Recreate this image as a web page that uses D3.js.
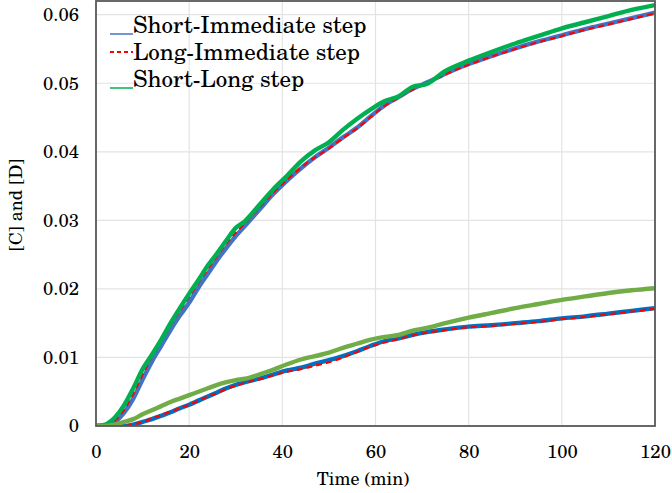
<!DOCTYPE html>
<html>
<head>
<meta charset="utf-8">
<script src="https://cdn.jsdelivr.net/npm/d3@7"></script>
<style>
  html, body { margin: 0; padding: 0; background: #fff; }
  svg { display: block; }
  text { font-family: "TeX Gyre Schola", "Century Schoolbook L", "Liberation Serif", serif; fill: #000; }
</style>
</head>
<body>
<svg id="chart" width="672" height="493"></svg>
<script>
// ---- data ----
const time = [0,2,3,4,6,8,10,12,14,16,18,20,22,24,26,28,30,32,35,38,41,44,47,50,53,56,59,62,65,68,71,75,80,85,90,95,100,105,110,115,120];

const shortImmediateC = [0,0,0,0.0005,0.0019,0.004,0.0068,0.0094,0.0117,0.014,0.0161,0.018,0.0202,0.0222,0.0242,0.026,0.0277,0.0292,0.0315,0.0338,0.0358,0.0376,0.0392,0.0406,0.0421,0.0435,0.0452,0.0468,0.048,0.0492,0.0501,0.0514,0.0528,0.054,0.0551,0.0561,0.057,0.0579,0.0587,0.0595,0.0603];
const shortImmediateD = [0,0,0,0,0,0.0002,0.0006,0.001,0.0015,0.002,0.0026,0.0031,0.0037,0.0043,0.0049,0.0055,0.006,0.0064,0.0069,0.0075,0.0081,0.0085,0.0091,0.0096,0.0102,0.0109,0.0117,0.0124,0.0128,0.0133,0.0137,0.0141,0.0145,0.0147,0.015,0.0153,0.0157,0.016,0.0164,0.0168,0.0172];

const longImmediateC = [0,0,0.0001,0.0007,0.0023,0.0047,0.0075,0.0101,0.0124,0.0147,0.0168,0.0188,0.0209,0.0229,0.0248,0.0266,0.0282,0.0296,0.0318,0.034,0.0359,0.0377,0.0392,0.0405,0.042,0.0434,0.0451,0.0467,0.0479,0.0491,0.05,0.0513,0.0527,0.0539,0.055,0.056,0.0569,0.0578,0.0586,0.0594,0.0602];
const longImmediateD = [0,0,0,0,0,0.0002,0.0006,0.0011,0.0016,0.0021,0.0026,0.0031,0.0037,0.0043,0.0048,0.0054,0.0059,0.0063,0.0068,0.0074,0.0079,0.0083,0.0088,0.0093,0.01,0.0108,0.0116,0.0122,0.0127,0.0132,0.0136,0.014,0.0144,0.0146,0.0149,0.0152,0.0156,0.0159,0.0163,0.0167,0.0171];

const shortLongC = [0,0.0002,0.0006,0.0012,0.003,0.0055,0.0083,0.0104,0.0126,0.015,0.0172,0.0193,0.0213,0.0234,0.0252,0.0271,0.0289,0.0299,0.0322,0.0345,0.0365,0.0386,0.0402,0.0414,0.0432,0.0448,0.0462,0.0474,0.0481,0.0495,0.0499,0.0518,0.0533,0.0546,0.0558,0.0569,0.058,0.0589,0.0598,0.0607,0.0614];
const shortLongD = [0,0,0.0001,0.0002,0.0006,0.001,0.0017,0.0023,0.0029,0.0035,0.004,0.0045,0.005,0.0055,0.006,0.0064,0.0067,0.0069,0.0075,0.0082,0.009,0.0097,0.0102,0.0107,0.0114,0.012,0.0126,0.013,0.0133,0.0139,0.0143,0.015,0.0158,0.0165,0.0172,0.0178,0.0184,0.0189,0.0194,0.0198,0.0201];

const xTicks = [0,20,40,60,80,100,120];
const yTicks = [0,0.01,0.02,0.03,0.04,0.05,0.06];
const yTickLabels = ["0","0.01","0.02","0.03","0.04","0.05","0.06"];
const legendLabels = ["Short-Immediate step","Long-Immediate step","Short-Long step"];

// ---- chart ----
const svg = d3.select("#chart");
const L = 96, R = 655, T = 1, B = 426;
const x = d3.scaleLinear().domain([0,120]).range([L,R]);
const y = d3.scaleLinear().domain([0,0.062]).range([B,T]);
const FONT = '"TeX Gyre Schola", "Century Schoolbook L", "Liberation Serif", serif';

// grid
const grid = svg.append("g");
grid.selectAll("line.gx").data(xTicks).join("line")
  .attr("x1", d=>x(d)).attr("x2", d=>x(d)).attr("y1", T).attr("y2", B)
  .attr("stroke", "#e3e3e3").attr("stroke-width", 1.2);
grid.selectAll("line.gy").data(yTicks).join("line")
  .attr("x1", L).attr("x2", R).attr("y1", d=>y(d)).attr("y2", d=>y(d))
  .attr("stroke", "#e3e3e3").attr("stroke-width", 1.2);

// axes (labels only)
const xAxis = d3.axisBottom(x).tickValues(xTicks).tickSize(0).tickPadding(19).tickFormat(d3.format("d"));
const gx = svg.append("g").attr("transform", `translate(0,${B})`).call(xAxis);
gx.select(".domain").remove();
gx.attr("font-family", FONT);
gx.selectAll("text").style("font-size","18.5px").style("font-family",FONT).attr("fill","#000");

const yAxis = d3.axisLeft(y).tickValues(yTicks).tickSize(0).tickPadding(17).tickFormat((d,i)=>yTickLabels[i]);
const gy = svg.append("g").attr("transform", `translate(${L},0)`).call(yAxis);
gy.select(".domain").remove();
gy.attr("font-family", FONT);
gy.selectAll("text").style("font-size","18.5px").style("font-family",FONT).attr("fill","#000");

// lines
const mk = vals => d3.line().x((d,i)=>x(time[i])).y(d=>y(d)).curve(d3.curveMonotoneX)(vals);
const series = [
  {v: shortImmediateC, c: "#4472C4", w: 4.4, dash: null},
  {v: shortImmediateD, c: "#0070C0", w: 4.4, dash: null},
  {v: longImmediateC, c: "#FF0000", w: 2.2, dash: "6,4"},
  {v: longImmediateD, c: "#FF0000", w: 2.2, dash: "6,4"},
  {v: shortLongC, c: "#00B050", w: 4.4, dash: null},
  {v: shortLongD, c: "#70AD47", w: 4.4, dash: null}
];
svg.append("defs").append("clipPath").attr("id","clip").append("rect")
  .attr("x", L).attr("y", T).attr("width", R-L).attr("height", B-T);
const gl = svg.append("g").attr("clip-path","url(#clip)");
series.forEach(s => {
  gl.append("path").attr("d", mk(s.v)).attr("fill","none")
    .attr("stroke", s.c).attr("stroke-width", s.w)
    .attr("stroke-dasharray", s.dash).attr("stroke-linejoin","round");
});

// frame
svg.append("rect").attr("x", L).attr("y", T).attr("width", R-L).attr("height", B-T)
  .attr("fill","none").attr("stroke","#595959").attr("stroke-width",1.8);

// legend
const legColors = ["#4472C4","#FF0000","#00B050"];
const legY = [33, 60, 87];
const lg = svg.append("g");
legendLabels.forEach((lab,i) => {
  const ly = i === 1 ? legY[i] - 8 : legY[i] + 1;
  lg.append("line").attr("x1",110).attr("x2",133).attr("y1",ly).attr("y2",ly)
    .attr("stroke", legColors[i]).attr("stroke-width", i===1?2:1.5)
    .attr("stroke-dasharray", i===1 ? "4,3" : null);
  lg.append("text").attr("x",133).attr("y",legY[i]).text(lab)
    .style("font-size","23px").style("font-family",FONT);
});

// axis titles
svg.append("text").attr("x", 363).attr("y", 485).attr("text-anchor","middle")
  .style("font-size","18px").style("font-family",FONT).text("Time (min)");
svg.append("text").attr("transform","translate(22,205) rotate(-90)").attr("text-anchor","middle")
  .style("font-size","18px").style("font-family",FONT).text("[C] and [D]");
</script>
</body>
</html>
